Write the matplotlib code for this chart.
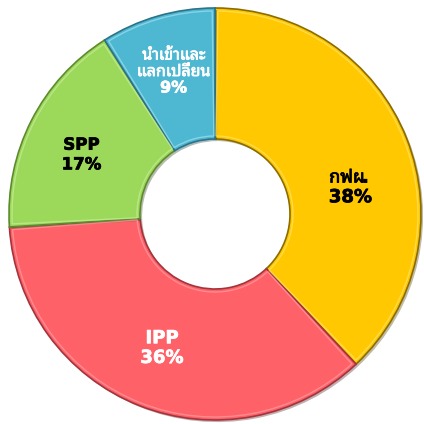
import numpy as np
import matplotlib
matplotlib.use('Agg')
import matplotlib.pyplot as plt
import matplotlib.patheffects as pe
from matplotlib.patches import Wedge

# data (ส่วนแบ่งกำลังผลิต)
labels  = ['กฟผ.', 'IPP', 'SPP', 'นำเข้าและ\nแลกเปลี่ยน']
shares  = [38, 36, 17, 9]
colors  = ['#FFC800', '#FF6168', '#9CD85A', '#4EB7D1']
edges   = ['#8A6C00', '#A3343C', '#5E8A2E', '#2B7388']
lights  = ['#FFE36A', '#FF9DA2', '#C8EE9A', '#9FE0F0']
txt_col = ['black', 'white', 'black', 'white']
txt_sz  = [13, 13, 12, 11.5]
# label placement (radius in units of outer radius, angle nudge deg)
lab_r     = [0.67, 0.70, 0.71, 0.72]
lab_shift = [-10.5, 0, 3, 0]

plt.rcParams['font.family'] = ['DejaVu Sans', 'Noto Sans Thai Looped']

W = H = 424
fig = plt.figure(figsize=(W/100, H/100), dpi=100)
ax = fig.add_axes([0, 0, 1, 1])
cx, cy, R, r_in = 215, 424 - 214, 206, 75

wedges, _ = ax.pie(shares, colors=colors, startangle=90, counterclock=False,
                   radius=R, center=(cx, cy), frame=True,
                   wedgeprops=dict(width=R - r_in, linewidth=1.2))
for w, ec, lc in zip(wedges, edges, lights):
    w.set_edgecolor(ec)
    w.set_path_effects([pe.SimplePatchShadow(offset=(1.5, -1.5), alpha=0.35),
                        pe.Normal()])
    # bevel highlight just inside the edge
    ax.add_patch(Wedge((cx, cy), R - 3, w.theta1 + 0.8, w.theta2 - 0.8,
                       width=R - r_in - 6, fill=False, ec=lc, lw=1.0, alpha=0.7))

for w, lab, s, c, fs, rr, sh in zip(wedges, labels, shares, txt_col, txt_sz,
                                     lab_r, lab_shift):
    ang = np.deg2rad((w.theta1 + w.theta2) / 2 + sh)
    ax.text(cx + rr * R * np.cos(ang), cy + rr * R * np.sin(ang),
            f'{lab}\n{s}%', ha='center', va='center', color=c,
            fontsize=fs, fontweight='bold', linespacing=1.12,
            path_effects=[pe.withStroke(linewidth=0.5, foreground=c)])

ax.set_xlim(0, W)
ax.set_ylim(0, H)
ax.set_aspect('equal')
ax.axis('off')
fig.savefig('out.png', dpi=100)
